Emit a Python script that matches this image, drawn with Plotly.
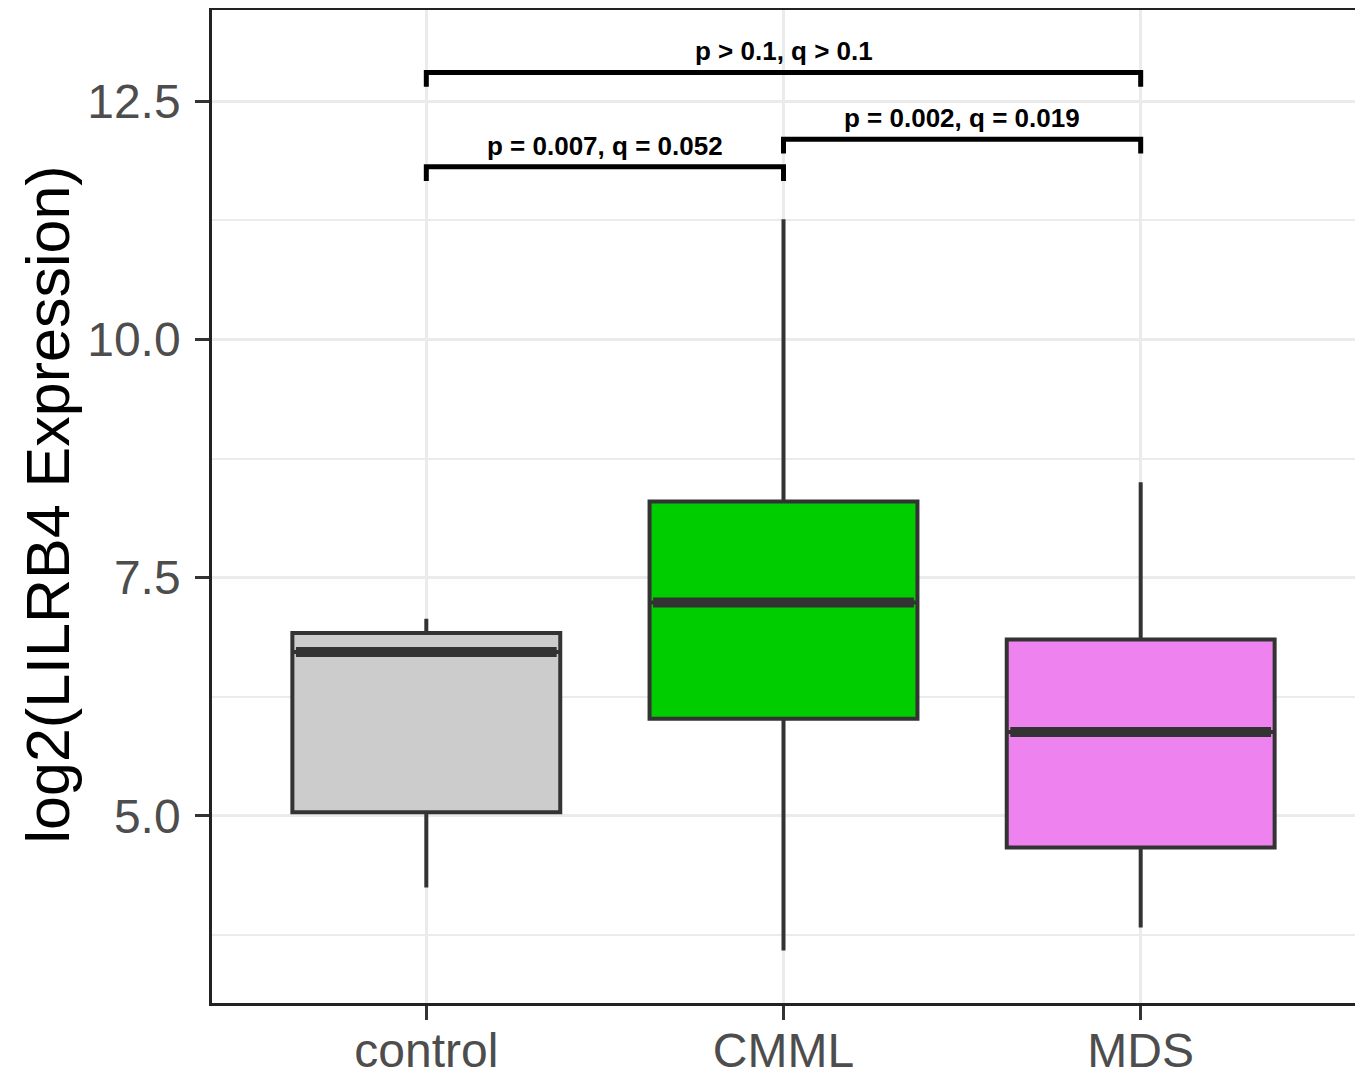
import plotly.graph_objects as go

# ---- data ----
categories = ["control", "CMML", "MDS"]
q1_vals = [5.04, 6.02, 4.67]
median_vals = [6.72, 7.24, 5.88]
q3_vals = [6.92, 8.30, 6.85]
lower_whisker = [4.25, 3.59, 3.83]
upper_whisker = [7.07, 11.26, 8.50]
box_colors = ["#CCCCCC", "#00CD00", "#EE82EE"]

bracket_from = [0, 0, 1]
bracket_to = [2, 1, 2]
bracket_y = [12.80, 11.81, 12.10]
bracket_labels = ["p > 0.1, q > 0.1", "p = 0.007, q = 0.052", "p = 0.002, q = 0.019"]
bracket_tick = 0.15

y_major_ticks = [5.0, 7.5, 10.0, 12.5]
y_tick_labels = ["5.0", "7.5", "10.0", "12.5"]
y_minor_ticks = [3.75, 6.25, 8.75, 11.25]

box_width = 0.75
line_col = "#333333"

fig = go.Figure()

for i, cat in enumerate(categories):
    fig.add_trace(go.Box(
        x=[i], q1=[q1_vals[i]], median=[median_vals[i]], q3=[q3_vals[i]],
        lowerfence=[lower_whisker[i]], upperfence=[upper_whisker[i]],
        width=box_width, fillcolor=box_colors[i],
        line=dict(color=line_col, width=4), whiskerwidth=0,
        boxpoints=False, showlegend=False, hoverinfo="skip", name=cat,
    ))
    # thick median line
    fig.add_trace(go.Scatter(
        x=[i - box_width / 2 + 0.01, i + box_width / 2 - 0.01],
        y=[median_vals[i], median_vals[i]],
        mode="lines", line=dict(color=line_col, width=10),
        showlegend=False, hoverinfo="skip",
    ))

for a, b, yv, lab in zip(bracket_from, bracket_to, bracket_y, bracket_labels):
    fig.add_trace(go.Scatter(
        x=[a, a, b, b], y=[yv - bracket_tick, yv, yv, yv - bracket_tick],
        mode="lines", line=dict(color="black", width=5),
        showlegend=False, hoverinfo="skip",
    ))
    fig.add_annotation(
        x=(a + b) / 2, y=yv, text=lab, showarrow=False,
        yanchor="bottom", yshift=4,
        font=dict(family="Arial, Liberation Sans", size=26, color="black", weight="bold"),
    )

fig.add_annotation(
    xref="paper", yref="paper", x=-0.1435, y=0.502,
    text="log2(LILRB4 Expression)", textangle=-90, showarrow=False,
    xanchor="center", yanchor="middle", borderpad=0,
    font=dict(family="Arial, Liberation Sans", size=61, color="black"),
)

fig.update_layout(
    width=1355, height=1071,
    margin=dict(l=204, r=8, t=2, b=76),
    paper_bgcolor="white", plot_bgcolor="white",
    font=dict(family="Arial, Liberation Sans"),
    showlegend=False,
    xaxis=dict(
        range=[-0.6, 2.6], tickmode="array", tickvals=list(range(len(categories))),
        ticktext=categories, showgrid=True, gridcolor="#EBEBEB", gridwidth=3,
        zeroline=False, showline=True, mirror=True, linecolor="#222222", linewidth=2.5,
        ticks="outside", ticklen=14, tickwidth=3, tickcolor=line_col,
        tickfont=dict(size=48, color="#4D4D4D"), ticklabelstandoff=-10,
        automargin=False,
    ),
    yaxis=dict(
        range=[3.038, 13.455], tickmode="array", tickvals=y_major_ticks,
        ticktext=y_tick_labels, showgrid=True, gridcolor="#EBEBEB", gridwidth=3,
        zeroline=False, showline=True, mirror=True, linecolor="#222222", linewidth=2.5,
        ticks="outside", ticklen=14, tickwidth=3, tickcolor=line_col,
        tickfont=dict(size=48, color="#4D4D4D"), ticklabelstandoff=5,
        automargin=False,
        minor=dict(tickmode="array", tickvals=y_minor_ticks, showgrid=True,
                   gridcolor="#EBEBEB", gridwidth=1.5, ticks=""),
    ),
)

fig.write_html("out.html")
